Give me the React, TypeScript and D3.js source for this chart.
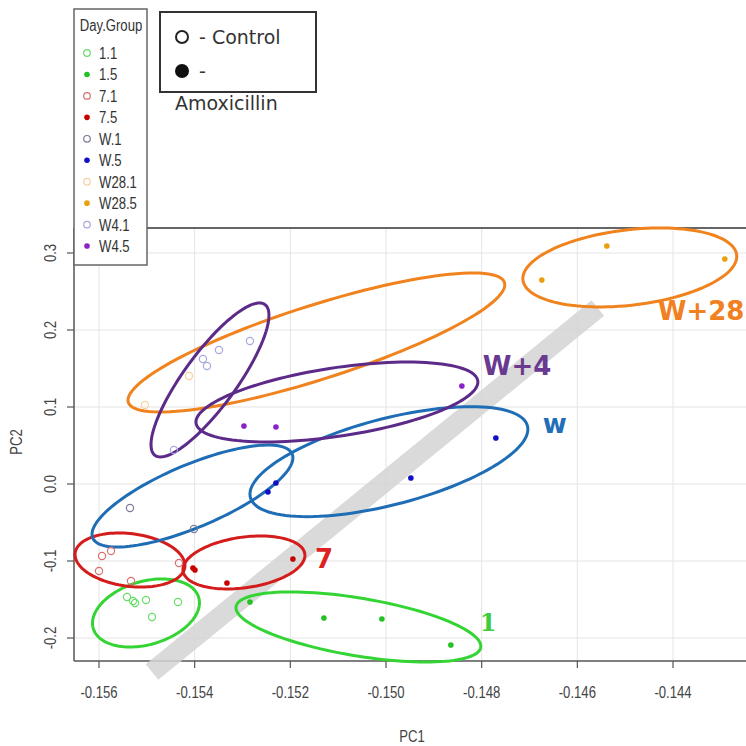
import React from 'react';
import * as d3 from 'd3';

// Day.Group legend
const groups = ['1.1', '1.5', '7.1', '7.5', 'W.1', 'W.5', 'W28.1', 'W28.5', 'W4.1', 'W4.5'];
const groupColors = ['#66dd66', '#22c222', '#d87070', '#c80000', '#7a7a9a', '#1010c8', '#f9cfa0', '#e8a010', '#a8a8dc', '#8a22c8'];
const groupFilled = [false, true, false, true, false, true, false, true, false, true];

// samples (index into groups)
const pointGroup = [0, 0, 0, 0, 0, 0, 1, 1, 1, 1, 2, 2, 2, 2, 2, 3, 3, 3, 3, 4, 4, 5, 5, 5, 5, 6, 6, 7, 7, 7, 8, 8, 8, 8, 8, 9, 9, 9];
const pc1 = [
  -0.155415, -0.155289, -0.155247, -0.155018, -0.154892, -0.154349,
  -0.152844, -0.151298, -0.150086, -0.148644,
  -0.155937, -0.155749, -0.156, -0.155331, -0.154328,
  -0.154036, -0.153994, -0.153325, -0.151946,
  -0.155352, -0.154015,
  -0.152468, -0.152301, -0.14948, -0.147703,
  -0.154119, -0.155039,
  -0.146742, -0.145383, -0.142917,
  -0.153827, -0.153743, -0.153492, -0.152844, -0.154433,
  -0.15297, -0.152301, -0.148414,
];
const pc2 = [
  -0.1468, -0.1519, -0.1545, -0.1506, -0.1727, -0.1532,
  -0.1532, -0.174, -0.1753, -0.2091,
  -0.0935, -0.087, -0.113, -0.126, -0.1026,
  -0.1091, -0.1117, -0.1286, -0.0974,
  -0.0312, -0.0584,
  -0.0104, 0.0013, 0.0078, 0.0597,
  0.1403, 0.1026,
  0.2649, 0.3091, 0.2922,
  0.1623, 0.1532, 0.174, 0.1857, 0.0442,
  0.0753, 0.074, 0.1273,
];

// ellipses, one per group
const ellipseColors = ['#33d433', '#33d433', '#d41c1c', '#d41c1c', '#1f6db4', '#1f6db4', '#f0831e', '#f0831e', '#5c2a88', '#5c2a88'];
const ellipseCx = [-0.155018, -0.150577, -0.155352, -0.15297, -0.154046, -0.149939, -0.151455, -0.144903, -0.15368, -0.151026];
const ellipseCy = [-0.1675, -0.1857, -0.0987, -0.1019, -0.0156, 0.029, 0.1838, 0.2812, 0.1351, 0.1065];
const ellipseRx = [0.001118, 0.00256, 0.001149, 0.001275, 0.0021, 0.002905, 0.003939, 0.002236, 0.001233, 0.002947];
const ellipseRy = [0.0442, 0.0455, 0.0351, 0.0344, 0.0662, 0.0714, 0.0903, 0.0513, 0.1, 0.0519];
const ellipseRho = [0.3, -0.55, -0.2, 0.27, 0.75, 0.59, 0.83, 0.28, 0.84, 0.5];

// annotation labels
const labelText = ['1', '7', 'w', 'W+4', 'W+28'];
const labelX = [-0.148038, -0.151486, -0.146721, -0.147975, -0.144318];
const labelY = [-0.1909, -0.1091, 0.0662, 0.1416, 0.213];
const labelColors = ['#3ccc3c', '#dd2222', '#1f70b8', '#6a3a90', '#f08020'];
const labelFonts = ['DejaVu Serif', 'DejaVu Sans', 'DejaVu Sans', 'DejaVu Sans', 'DejaVu Sans'];
const labelSizes = [24, 26, 26, 26, 26];

// trend arrow (PC1, PC2)
const arrowFrom = [-0.154892, -0.2442];
const arrowTo = [-0.145572, 0.2286];

const xTicks = [-0.156, -0.154, -0.152, -0.15, -0.148, -0.146, -0.144];
const yTicks = [-0.2, -0.1, 0.0, 0.1, 0.2, 0.3];

const W = 746;
const H = 746;
const plot = { left: 74, right: 746, top: 228, bottom: 661 };
const sans = "'Liberation Sans', Arial, sans-serif";
const squeeze = 0.82;

export default function App() {
  const x = d3.scaleLinear().domain([-0.156, -0.144]).range([99, 673]);
  const y = d3.scaleLinear().domain([-0.2, 0.3]).range([638, 253]);

  const ellipseLine = d3
    .line<[number, number]>()
    .x((d) => x(d[0]))
    .y((d) => y(d[1]))
    .curve(d3.curveLinearClosed);

  const ellipsePath = (i: number) => {
    const s = Math.sqrt(1 - ellipseRho[i] * ellipseRho[i]);
    const pts: [number, number][] = d3.range(120).map((k) => {
      const t = (k / 120) * Math.PI * 2;
      return [
        ellipseCx[i] + ellipseRx[i] * Math.cos(t),
        ellipseCy[i] + ellipseRy[i] * (ellipseRho[i] * Math.cos(t) + s * Math.sin(t)),
      ];
    });
    return ellipseLine(pts) as string;
  };

  // R prints a plain hyphen, not the unicode minus
  const fmtX = (v: number) => v.toFixed(3);
  const fmtY = (v: number) => (Math.abs(v) < 1e-9 ? '0.0' : v.toFixed(1));

  return (
    <svg width={W} height={H} style={{ position: 'absolute', left: 0, top: 0, background: '#fff' }}>
      {/* grid */}
      {xTicks.map((t) => (
        <line key={'gx' + t} x1={x(t)} x2={x(t)} y1={plot.top} y2={plot.bottom} stroke="#e4e4e4" strokeWidth={1} />
      ))}
      {yTicks.map((t) => (
        <line key={'gy' + t} x1={plot.left} x2={plot.right} y1={y(t)} y2={y(t)} stroke="#e4e4e4" strokeWidth={1} />
      ))}

      {/* frame */}
      <line x1={plot.left} x2={plot.right} y1={plot.top} y2={plot.top} stroke="#666" strokeWidth={2} />
      <line x1={plot.left} x2={plot.left} y1={plot.top} y2={plot.bottom} stroke="#555" strokeWidth={1.5} />
      <line x1={plot.left} x2={plot.right} y1={plot.bottom} y2={plot.bottom} stroke="#555" strokeWidth={1.5} />

      {/* x axis */}
      {xTicks.map((t) => (
        <g key={'tx' + t}>
          <line x1={x(t)} x2={x(t)} y1={plot.bottom} y2={plot.bottom + 7} stroke="#555" strokeWidth={1.2} />
          <text
            transform={`translate(${x(t)},698) scale(${squeeze},1)`}
            textAnchor="middle"
            fontFamily={sans}
            fontSize={16}
            fill="#444"
          >
            {fmtX(t)}
          </text>
        </g>
      ))}
      <text transform={`translate(412,742) scale(${squeeze},1)`} textAnchor="middle" fontFamily={sans} fontSize={16} fill="#444">
        PC1
      </text>

      {/* y axis */}
      {yTicks.map((t) => (
        <g key={'ty' + t}>
          <line x1={plot.left - 7} x2={plot.left} y1={y(t)} y2={y(t)} stroke="#555" strokeWidth={1.2} />
          <text
            transform={`translate(56,${y(t)}) rotate(-90) scale(${squeeze},1)`}
            textAnchor="middle"
            fontFamily={sans}
            fontSize={16}
            fill="#444"
          >
            {fmtY(t)}
          </text>
        </g>
      ))}
      <text
        transform={`translate(22,442) rotate(-90) scale(${squeeze},1)`}
        textAnchor="middle"
        fontFamily={sans}
        fontSize={16}
        fill="#444"
      >
        PC2
      </text>

      {/* trend arrow */}
      <line
        x1={x(arrowFrom[0])}
        y1={y(arrowFrom[1])}
        x2={x(arrowTo[0])}
        y2={y(arrowTo[1])}
        stroke="#d4d4d4"
        strokeOpacity={0.85}
        strokeWidth={20}
      />

      {/* ellipses */}
      {groups.map((g, i) => (
        <path key={'e' + g} d={ellipsePath(i)} fill="none" stroke={ellipseColors[i]} strokeWidth={3} />
      ))}

      {/* points */}
      {pointGroup.map((g, i) =>
        groupFilled[g] ? (
          <circle key={'p' + i} cx={x(pc1[i])} cy={y(pc2[i])} r={2.8} fill={groupColors[g]} />
        ) : (
          <circle key={'p' + i} cx={x(pc1[i])} cy={y(pc2[i])} r={3.6} fill="none" stroke={groupColors[g]} strokeWidth={1.2} />
        )
      )}

      {/* annotations */}
      {labelText.map((s, i) => (
        <text
          key={'l' + s}
          x={x(labelX[i])}
          y={y(labelY[i])}
          fontFamily={labelFonts[i]}
          fontWeight="bold"
          fontSize={labelSizes[i]}
          fill={labelColors[i]}
        >
          {s}
        </text>
      ))}

      {/* Day.Group legend */}
      <rect x={74} y={9} width={73} height={256} fill="#fff" stroke="#666" strokeWidth={1.5} />
      <text transform={`translate(111,31) scale(${squeeze},1)`} textAnchor="middle" fontFamily={sans} fontSize={16} fill="#333">
        Day.Group
      </text>
      {groups.map((g, i) => {
        const cy = 53 + i * 21.45;
        return (
          <g key={'lg' + g}>
            {groupFilled[i] ? (
              <circle cx={87} cy={cy} r={2.8} fill={groupColors[i]} />
            ) : (
              <circle cx={87} cy={cy} r={3.3} fill="none" stroke={groupColors[i]} strokeWidth={1.2} />
            )}
            <text transform={`translate(99,${cy + 6}) scale(${squeeze},1)`} fontFamily={sans} fontSize={16} fill="#333">
              {g}
            </text>
          </g>
        );
      })}

      {/* treatment legend */}
      <rect x={160} y={12} width={156} height={80} fill="#fff" stroke="#333" strokeWidth={2} />
      <circle cx={182} cy={37} r={6} fill="none" stroke="#222" strokeWidth={2} />
      <text x={199} y={44} fontFamily="DejaVu Sans" fontSize={19} fill="#333">
        - Control
      </text>
      <circle cx={182} cy={71} r={7} fill="#111" />
      <text x={199} y={78} fontFamily="DejaVu Sans" fontSize={19} fill="#333">
        -
      </text>
      <text x={175} y={110} fontFamily="DejaVu Sans" fontSize={19} fill="#333">
        Amoxicillin
      </text>
    </svg>
  );
}
